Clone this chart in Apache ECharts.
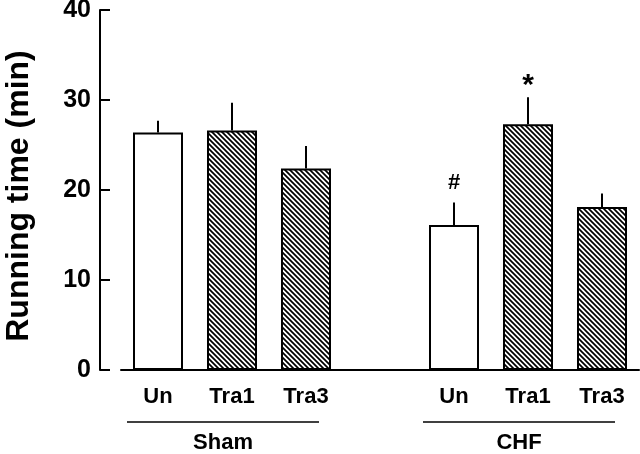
<!DOCTYPE html>
<html>
<head>
<meta charset="utf-8">
<script src="https://cdn.jsdelivr.net/npm/echarts@6/dist/echarts.min.js"></script>
<style>
  html, body { margin: 0; padding: 0; background: #fff; }
  #chart { width: 640px; height: 454px; }
</style>
</head>
<body>
<div id="chart"></div>
<script>
// 数据
const groups = ['Sham', 'CHF'];
const treatments = ['Un', 'Tra1', 'Tra3'];
const shamMeans = [26.4, 26.6, 22.4];
const shamSem = [1.3, 3.1, 2.5];
const chfMeans = [16.1, 27.3, 18.1];
const chfSem = [2.5, 3.0, 1.5];
const chfMarks = ['#', '*', ''];
const yTicks = [0, 10, 20, 30, 40];

const FONT = '"Liberation Sans", Arial, Helvetica, sans-serif';

// 斜线填充
function hatch() {
  const s = 5;
  const c = document.createElement('canvas');
  c.width = s; c.height = s;
  const ctx = c.getContext('2d');
  ctx.fillStyle = '#fff';
  ctx.fillRect(0, 0, s, s);
  ctx.strokeStyle = '#000';
  ctx.lineWidth = 1.7;
  ctx.beginPath();
  ctx.moveTo(-1, -1); ctx.lineTo(s + 1, s + 1);
  ctx.moveTo(-1, s - 1); ctx.lineTo(1, s + 1);
  ctx.moveTo(s - 1, -1); ctx.lineTo(s + 1, 1);
  ctx.stroke();
  return c;
}
const pattern = { image: hatch(), repeat: 'repeat' };

// 类目: Sham三组 + 空位 + CHF三组
let categories = [];
let barData = [];
let errData = [];
let groupSpans = [];
[[shamMeans, shamSem, ['', '', '']], null, [chfMeans, chfSem, chfMarks]].forEach((g, gi) => {
  if (!g) {
    categories.push('gap');
    barData.push(null);
    return;
  }
  const name = gi === 0 ? groups[0] : groups[1];
  const start = categories.length;
  treatments.forEach((t, i) => {
    const idx = categories.length;
    categories.push(name + '|' + t);
    barData.push({
      value: g[0][i],
      itemStyle: { color: t === 'Un' ? '#fff' : pattern }
    });
    errData.push([idx, g[0][i], g[0][i] + g[1][i], g[2][i]]);
  });
  groupSpans.push([start, categories.length - 1, name]);
});

const chart = echarts.init(document.getElementById('chart'));
const option = {
  animation: false,
  backgroundColor: '#fff',
  grid: { left: 121, right: 1, top: 10, bottom: 84, outerBoundsMode: 'none' },
  xAxis: {
    type: 'category',
    data: categories,
    axisLine: { lineStyle: { color: '#000', width: 2 } },
    axisTick: { show: false },
    axisLabel: {
      interval: 0,
      margin: 16,
      color: '#000',
      fontFamily: FONT,
      fontWeight: 'bold',
      fontSize: 22,
      formatter: v => v === 'gap' ? '' : v.split('|')[1]
    }
  },
  yAxis: {
    type: 'value',
    min: 0,
    max: 40,
    interval: 10,
    offset: 21,
    name: 'Running time (min)',
    nameLocation: 'middle',
    nameRotate: 90,
    nameGap: 65,
    nameTextStyle: { color: '#000', fontFamily: FONT, fontWeight: 'bold', fontSize: 32, padding: [0, 12, 0, 0] },
    axisLine: { show: true, lineStyle: { color: '#000', width: 2 } },
    axisTick: { show: true, inside: true, length: 10, lineStyle: { color: '#000', width: 2 } },
    axisLabel: {
      margin: 9,
      color: '#000',
      fontFamily: FONT,
      fontWeight: 'bold',
      fontSize: 25,
      formatter: v => yTicks.indexOf(v) >= 0 ? String(v) : ''
    },
    splitLine: { show: false }
  },
  series: [
    {
      type: 'bar',
      data: barData,
      barWidth: 50,
      itemStyle: { borderColor: '#000', borderWidth: 2 }
    },
    {
      // 误差线和显著性标记
      type: 'custom',
      data: errData,
      z: 1,
      renderItem: (params, api) => {
        const p0 = api.coord([api.value(0), api.value(1)]);
        const p1 = api.coord([api.value(0), api.value(2)]);
        const mark = errData[params.dataIndex][3];
        const children = [{
          type: 'line',
          shape: { x1: p0[0], y1: p0[1], x2: p1[0], y2: p1[1] },
          style: { stroke: '#000', lineWidth: 2 }
        }];
        if (mark) {
          children.push({
            type: 'text',
            style: {
              text: mark,
              x: p1[0],
              y: p1[1] - (mark === '*' ? 12 : 20),
              align: 'center',
              verticalAlign: 'middle',
              font: 'bold ' + (mark === '*' ? 30 : 22) + 'px ' + FONT,
              fill: '#000'
            }
          });
        }
        return { type: 'group', children: children };
      }
    },
    {
      // 分组线和组名
      type: 'custom',
      data: groupSpans.map(s => [s[0], s[1]]),
      clip: false,
      silent: true,
      renderItem: (params, api) => {
        const a = api.coord([api.value(0), 0]);
        const b = api.coord([api.value(1), 0]);
        const x1 = a[0] - 31, x2 = b[0] + 13;
        return {
          type: 'group',
          children: [
            {
              type: 'line',
              shape: { x1: x1, y1: a[1] + 52, x2: x2, y2: a[1] + 52 },
              style: { stroke: '#000', lineWidth: 1.5 }
            },
            {
              type: 'text',
              style: {
                text: groupSpans[params.dataIndex][2],
                x: (x1 + x2) / 2,
                y: a[1] + 73,
                align: 'center',
                verticalAlign: 'middle',
                font: 'bold 22px ' + FONT,
                fill: '#000'
              }
            }
          ]
        };
      }
    }
  ]
};
chart.setOption(option);
</script>
</body>
</html>
